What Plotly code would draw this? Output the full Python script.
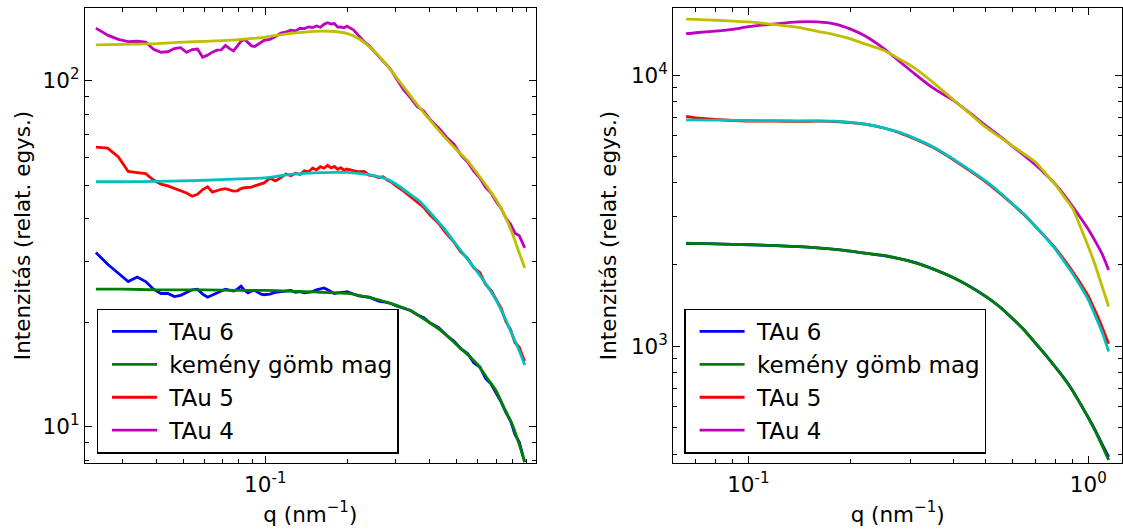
import plotly.graph_objects as go

# ---------------- left panel: q in nm^-1, intensity in relative units ----------------
q_left = [0.024, 0.0265, 0.029, 0.0315, 0.034, 0.0365, 0.039, 0.0415, 0.044, 0.0465,
          0.049, 0.0515, 0.054, 0.0565, 0.059, 0.0615, 0.064, 0.0665, 0.069, 0.0715,
          0.074, 0.0765, 0.079, 0.0815, 0.084, 0.0865, 0.089, 0.0915, 0.094, 0.0965, 0.099,
          0.104, 0.109, 0.114, 0.119, 0.124, 0.129, 0.134, 0.139, 0.144, 0.149,
          0.154, 0.159, 0.164, 0.169, 0.174, 0.179, 0.184, 0.189, 0.194, 0.199,
          0.21, 0.22, 0.23, 0.24, 0.25, 0.26, 0.27, 0.28, 0.29, 0.30,
          0.32, 0.34, 0.36, 0.38, 0.40, 0.43, 0.46, 0.49, 0.52, 0.55, 0.58,
          0.61, 0.64, 0.67, 0.70, 0.73, 0.76, 0.79, 0.82, 0.85, 0.88, 0.89]

tau6_left = [31.9, 29.5, 27.8, 26.3, 27.1, 26.3, 25.0, 24.3, 24.3, 23.8,
             24.0, 24.5, 24.9, 25.0, 24.2, 23.7, 24.0, 24.3, 24.7, 25.0,
             24.9, 24.7, 25.0, 25.5, 24.8, 24.4, 24.7, 24.8, 24.5, 24.2, 24.1,
             24.2, 24.5, 24.6, 24.8, 24.8, 24.5, 24.6, 24.4, 24.5, 24.6,
             24.9, 25.0, 25.2, 24.9, 24.6, 24.3, 24.4, 24.4, 24.5, 24.6,
             24.2, 23.9, 23.8, 23.7, 23.4, 23.1, 23.0, 22.9, 22.7, 22.4,
             22.0, 21.7, 21.1, 20.7, 20.0, 19.4, 18.4, 17.7, 16.8, 16.3, 15.3,
             14.9, 13.8, 13.3, 12.5, 11.8, 11.0, 10.4, 9.5, 9.05, 8.15, 7.92]

tau5_left = [64.3, 63.9, 60.3, 54.7, 54.3, 53.9, 51.7, 50.3, 49.7, 48.9,
             47.9, 47.4, 46.4, 47.0, 48.5, 49.4, 47.7, 48.2, 48.6, 48.8,
             48.5, 48.0, 48.1, 48.8, 49.1, 49.1, 49.3, 49.7, 50.1, 50.4, 50.7,
             52.3, 51.4, 52.5, 53.8, 53.2, 54.1, 53.6, 55.0, 54.6, 55.9,
             55.3, 56.5, 55.9, 57.0, 56.0, 56.6, 55.5, 56.1, 55.2, 55.6,
             55.0, 54.6, 54.7, 53.4, 53.1, 52.5, 52.8, 51.6, 50.9, 49.8,
             48.1, 46.4, 44.6, 43.1, 41.0, 38.8, 36.2, 34.2, 32.0, 30.7, 28.8,
             27.9, 25.8, 24.8, 23.2, 22.0, 20.1, 19.1, 17.5, 17.0, 15.8, 15.5]

tau4_left = [142.0, 135.5, 131.8, 129.7, 130.1, 129.4, 123.3, 120.9, 121.3, 123.9,
             124.6, 120.9, 123.1, 123.5, 117.0, 118.6, 121.0, 122.6, 122.8, 126.5,
             123.8, 122.0, 126.0, 130.1, 131.7, 128.8, 126.2, 125.7, 127.5, 129.5, 130.9,
             131.8, 134.2, 137.4, 138.2, 140.1, 139.4, 141.8, 141.5, 143.2, 142.6,
             144.0, 142.8, 145.6, 147.2, 145.9, 146.3, 142.9, 143.0, 142.2, 143.8,
             140.4, 134.9, 129.8, 126.2, 121.6, 117.6, 113.9, 110.6, 106.8, 102.2,
             94.5, 89.3, 84.2, 81.8, 77.5, 73.2, 68.7, 65.6, 61.0, 58.3, 54.7,
             52.4, 49.2, 47.4, 44.7, 42.7, 40.1, 38.5, 36.3, 35.7, 33.3, 32.9]

# model curves (left)
q_fit_left = [0.024, 0.03, 0.04, 0.05, 0.06, 0.08, 0.1, 0.12, 0.14, 0.16, 0.18, 0.2,
              0.22, 0.25, 0.28, 0.31, 0.34, 0.37, 0.4, 0.45, 0.5, 0.55, 0.6, 0.65,
              0.7, 0.75, 0.8, 0.85, 0.89]
core_fit_left = [25.0, 25.0, 24.9, 24.9, 24.9, 24.8, 24.8, 24.7, 24.6, 24.5, 24.4, 24.3,
                 24.0, 23.5, 22.9, 22.3, 21.7, 20.8, 20.0, 18.7, 17.3, 16.2, 15.1, 13.8,
                 12.7, 11.3, 10.2, 8.9, 7.92]
fit5_left = [51.1, 51.1, 51.2, 51.4, 51.6, 52.1, 52.4, 53.5, 54.0, 54.3, 54.4, 54.4,
             54.0, 53.2, 51.9, 49.5, 46.9, 44.6, 41.7, 37.5, 33.6, 30.5, 27.9, 25.5,
             23.2, 20.8, 18.5, 16.6, 15.1]
fit4_left = [127.0, 127.4, 128.1, 129.3, 130.0, 131.5, 133.8, 136.6, 138.3, 139.2, 138.8, 136.9,
             132.3, 121.9, 110.4, 99.4, 90.5, 83.0, 77.1, 69.2, 63.3, 58.7, 53.7, 49.3,
             45.3, 41.0, 36.4, 31.8, 28.8]

# ---------------- right panel ----------------
q_right = [0.0656, 0.07, 0.08, 0.09, 0.1, 0.12, 0.14, 0.16, 0.18, 0.2, 0.22, 0.25,
           0.28, 0.31, 0.35, 0.4, 0.45, 0.5, 0.55, 0.6, 0.65, 0.7, 0.75, 0.8,
           0.85, 0.9, 0.95, 1.0, 1.05, 1.1, 1.148]
tau6_right = [2390, 2392, 2384, 2372, 2366, 2348, 2328, 2306, 2274, 2241, 2202, 2158,
              2098, 2032, 1923, 1792, 1657, 1523, 1394, 1260, 1142, 1023, 927, 836,
              760, 685, 609, 546, 488, 433, 390]
core_fit_right = [2400, 2395, 2385, 2375, 2367, 2350, 2330, 2305, 2277, 2240, 2205, 2160,
                  2100, 2030, 1925, 1790, 1655, 1525, 1392, 1262, 1140, 1025, 925, 838,
                  758, 683, 611, 544, 484, 428, 380]
tau5_right = [7040, 6950, 6860, 6800, 6770, 6760, 6750, 6760, 6740, 6680, 6590, 6380,
              6110, 5800, 5400, 4880, 4420, 4030, 3660, 3330, 3040, 2760, 2520, 2300,
              2080, 1880, 1700, 1530, 1340, 1170, 1020]
fit5_right = [6840, 6830, 6820, 6810, 6800, 6790, 6780, 6780, 6760, 6690, 6600, 6390,
              6130, 5830, 5430, 4910, 4450, 4060, 3680, 3340, 3050, 2760, 2510, 2280,
              2050, 1850, 1660, 1485, 1290, 1120, 956]
tau4_right = [14210, 14330, 14530, 14750, 15080, 15460, 15720, 15710, 15430, 14780, 13970, 12550,
              11160, 10060, 8950, 8080, 7220, 6500, 5940, 5450, 5030, 4660, 4300, 3960,
              3610, 3270, 2970, 2700, 2430, 2180, 1909]
fit4_right = [16100, 16050, 15930, 15810, 15710, 15360, 15010, 14500, 14080, 13600, 13040, 12340,
              11410, 10570, 9380, 8130, 7180, 6410, 5900, 5470, 5100, 4770, 4330, 3940,
              3550, 3215, 2735, 2330, 1976, 1650, 1400]

FONT = "DejaVu Sans"
FS = 21.5          # axis labels and tick labels
FS_LEGEND = 23     # legend entries
LW = 2.8
BLUE, GREEN, RED = "#0000ff", "#008000", "#ff0000"
CYAN, MAGENTA, YELLOW = "#00bfbf", "#bf00bf", "#bfbf00"
PAD = "\u00a0"  # gap between legend line sample and label

fig = go.Figure()


def add_line(x, y, color, name, axes, legend, in_legend, smooth):
    fig.add_trace(go.Scatter(
        x=x, y=y, mode="lines", name=PAD + name,
        line=dict(color=color, width=LW, shape="spline" if smooth else "linear",
                  smoothing=0.6 if smooth else 0),
        xaxis=axes[0], yaxis=axes[1],
        legend=legend, showlegend=in_legend,
        hoverinfo="skip",
    ))


panels = [
    (("x", "y"), "legend", False,
     (q_left, q_fit_left, tau6_left, core_fit_left, tau5_left, fit5_left, tau4_left, fit4_left)),
    (("x2", "y2"), "legend2", True,
     (q_right, q_right, tau6_right, core_fit_right, tau5_right, fit5_right, tau4_right, fit4_right)),
]
for axes, legend, smooth_data, data in panels:
    qd, qf, t6, c6, t5, f5, t4, f4 = data
    add_line(qd, t6, BLUE, "TAu 6", axes, legend, True, smooth_data)
    add_line(qf, c6, GREEN, "kemény gömb mag", axes, legend, True, True)
    add_line(qd, t5, RED, "TAu 5", axes, legend, True, smooth_data)
    add_line(qf, f5, CYAN, "TAu 5 illesztés", axes, legend, False, True)
    add_line(qd, t4, MAGENTA, "TAu 4", axes, legend, True, smooth_data)
    add_line(qf, f4, YELLOW, "TAu 4 illesztés", axes, legend, False, True)

tick_font = dict(family=FONT, size=FS, color="black")


def log_axis(rng, major, labels, minor_vals, title, standoff, domain=None):
    ax = dict(
        type="log", range=rng, showgrid=False, zeroline=False,
        showline=True, linecolor="black", linewidth=1.3, mirror="ticks",
        ticks="inside", ticklen=7, tickwidth=1.1, tickcolor="black",
        tickvals=major, ticktext=labels, tickfont=tick_font,
        minor=dict(tickvals=minor_vals, ticks="inside", ticklen=3.5,
                   tickwidth=1.0, tickcolor="black", showgrid=False),
        title=dict(text=title, font=dict(family=FONT, size=FS, color="black"),
                   standoff=standoff),
    )
    if domain is not None:
        ax["domain"] = domain
    return ax


x_title = "q (nm<sup>−1</sup>)"
y_title = "Intenzitás (relat. egys.)"

fig.update_layout(
    width=1123, height=531,
    margin=dict(l=85, r=1, t=8, b=68),
    plot_bgcolor="white", paper_bgcolor="white",
    font=dict(family=FONT, size=FS, color="black"),
    xaxis=log_axis([-1.6597, -0.0106], [0.1], ["10<sup>-1</sup>"],
                   [0.03, 0.04, 0.05, 0.06, 0.07, 0.08, 0.09,
                    0.2, 0.3, 0.4, 0.5, 0.6, 0.7, 0.8, 0.9],
                   x_title, 10, domain=[0, 0.4346]),
    yaxis=log_axis([0.8959, 2.2103], [10, 100], ["10<sup>1</sup>", "10<sup>2</sup>"],
                   [8, 9, 20, 30, 40, 50, 60, 70, 80, 90],
                   y_title, 6),
    xaxis2=log_axis([-1.2208, 0.0992], [0.1, 1], ["10<sup>-1</sup>", "10<sup>0</sup>"],
                    [0.07, 0.08, 0.09, 0.2, 0.3, 0.4, 0.5, 0.6, 0.7, 0.8, 0.9],
                    x_title, 10, domain=[0.5673, 1.0]),
    yaxis2=log_axis([2.5689, 4.2475], [1000, 10000], ["10<sup>3</sup>", "10<sup>4</sup>"],
                    [400, 500, 600, 700, 800, 900,
                     2000, 3000, 4000, 5000, 6000, 7000, 8000, 9000],
                    y_title, 8),
    showlegend=True,
)
fig.layout.xaxis.ticklabelstandoff = 2
fig.layout.xaxis2.ticklabelstandoff = 2
fig.layout.yaxis2.anchor = "x2"
fig.layout.xaxis2.anchor = "y2"

legend_style = dict(
    xanchor="left", yanchor="top", bgcolor="white",
    bordercolor="black", borderwidth=1.3,
    font=dict(family=FONT, size=FS_LEGEND, color="black"),
    traceorder="normal", tracegroupgap=0, itemwidth=45, indentation=9,
)
fig.update_layout(
    legend=dict(x=0.0113, y=0.3391, **legend_style),
    legend2=dict(x=0.5779, y=0.3391, **legend_style),
)

fig.write_html("out.html", config={"displayModeBar": False})
